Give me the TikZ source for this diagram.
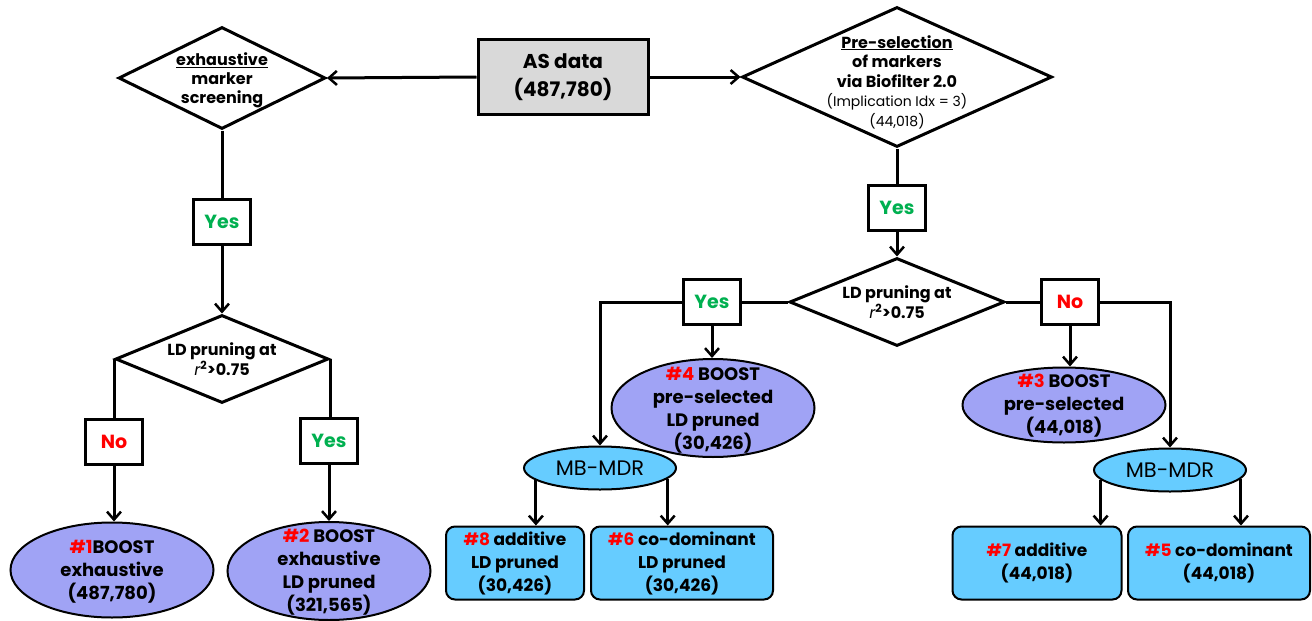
\documentclass[tikz,border=0pt]{standalone}
\usepackage{fontspec}
\setmainfont{Poppins}
\usetikzlibrary{shapes.geometric,arrows.meta,calc}
\definecolor{ellfill}{HTML}{A0A3F5}
\definecolor{bluefill}{HTML}{66CCFF}
\definecolor{greyfill}{HTML}{D9D9D9}
\definecolor{yesgreen}{HTML}{00B050}
\definecolor{nored}{HTML}{FF0000}
\newcommand{\rn}[1]{\textcolor{nored}{#1}}
\begin{document}
\begin{tikzpicture}[x=1pt,y=-1pt,
  conn/.style={line width=3pt},
  arr/.style={conn,-{Straight Barb[length=8pt,width=14pt,line width=2.5pt]}},
  dia/.style={diamond,draw,line width=3pt,fill=white,inner sep=0pt},
  txt/.style={align=center,inner sep=0pt,font=\fontsize{16}{19}\selectfont\bfseries},
  big/.style={align=center,inner sep=0pt,font=\fontsize{18}{23}\selectfont\bfseries},
  ans/.style={draw,line width=3pt,fill=white,minimum width=57pt,minimum height=45pt,inner sep=0pt,font=\fontsize{19}{22}\selectfont\bfseries},
  ell/.style={ellipse,draw,line width=2pt,fill=ellfill,inner sep=0pt},
  mb/.style={ellipse,draw,line width=2pt,fill=bluefill,inner sep=0pt,minimum width=152pt,minimum height=43pt,font=\fontsize{21}{24}\selectfont},
  res/.style={draw,line width=2pt,fill=bluefill,rounded corners=9pt,inner sep=0pt,minimum height=73pt,align=center,font=\fontsize{17}{23}\selectfont\bfseries}
]
\useasboundingbox (0,0) rectangle (1312,621);

% top row
\node[draw,line width=3pt,fill=greyfill,minimum width=170pt,minimum height=75pt,align=center,inner sep=0pt,
  font=\fontsize{20}{28}\selectfont\bfseries] (as) at (563,77) {AS data\\(487,780)};
\node[dia,minimum width=207pt,minimum height=102pt] (d1) at (222,78) {};
\node[txt] (d1t) at (222,80) {\underline{exhaustive}\\marker\\screening};
\node[dia,minimum width=310pt,minimum height=140pt] (d2) at (897,77) {};
\node[align=center,inner sep=0pt,font=\fontsize{16}{19.5}\selectfont\bfseries] (d2t) at (897,82)
  {\underline{Pre-selection}\\
   of markers\\
   via Biofilter 2.0\\
   {\fontsize{14}{14}\selectfont\mdseries (Implication Idx = 3)}\\
   {\fontsize{14}{14}\selectfont\mdseries (44,018)}};

% left branch
\node[ans,text=yesgreen] (y1) at (222,222) {Yes};
\node[dia,minimum width=213pt,minimum height=88pt] (ld1) at (222,359) {};
\node[txt] (ld1t) at (222,359) {LD pruning at\\{\normalfont\itshape r}\textsuperscript{2}>0.75};
\node[ans,text=nored] (n1) at (114,442) {No};
\node[ans,text=yesgreen] (y3) at (329,441) {Yes};
\node[ell,minimum width=203pt,minimum height=95pt] (e1) at (112,570) {};
\node[big] (e1t) at (112,572) {\rn{\#1}BOOST\\exhaustive\\(487,780)};
\node[ell,minimum width=203pt,minimum height=98pt] (e2) at (329,571) {};
\node[big] (e2t) at (329,572) {\rn{\#2} BOOST\\exhaustive\\LD pruned\\(321,565)};

% right branch
\node[ans,text=yesgreen] (y2) at (897,208) {Yes};
\node[dia,minimum width=215pt,minimum height=88pt] (ld2) at (897,302) {};
\node[txt] (ld2t) at (897,302) {LD pruning at\\{\normalfont\itshape r}\textsuperscript{2}>0.75};
\node[ans,text=yesgreen] (y4) at (712,302) {Yes};
\node[ans,text=nored] (n2) at (1070,302) {No};
\node[ell,minimum width=203pt,minimum height=98pt] (e4) at (713,408) {};
\node[big] (e4t) at (713,410) {\rn{\#4} BOOST\\pre-selected\\LD pruned\\(30,426)};
\node[ell,minimum width=203pt,minimum height=75pt] (e3) at (1064,405) {};
\node[big] (e3t) at (1064,406) {\rn{\#3} BOOST\\pre-selected\\(44,018)};
\node[mb] (mb1) at (600,468) {MB-MDR};
\node[mb] (mb2) at (1170,470) {MB-MDR};
\node[res,minimum width=138pt] (b8) at (515,563) {\rn{\#8} additive\\LD pruned\\(30,426)};
\node[res,minimum width=182pt] (b6) at (682,563) {\rn{\#6} co-dominant\\LD pruned\\(30,426)};
\node[res,minimum width=169pt] (b7) at (1037,563) {\rn{\#7} additive\\(44,018)};
\node[res,minimum width=182pt] (b5) at (1219,563) {\rn{\#5} co-dominant\\(44,018)};

% connectors
\draw[arr] (as.west) -- (d1.east);
\draw[arr] (as.east) -- (d2.west);
\draw[conn] (d1.south) -- (y1.north);
\draw[arr] (y1.south) -- (ld1.north);
\draw[conn] (ld1.west) -- (ld1.west |- n1.north);
\draw[conn] (ld1.east) -- (ld1.east |- y3.north);
\draw[arr] (n1.south) -- (n1.south |- e1.north);
\draw[arr] (y3.south) -- (e2.north);
\draw[conn] (d2.south) -- (y2.north);
\draw[arr] (y2.south) -- (ld2.north);
\draw[conn] (ld2.west) -- (y4.east);
\draw[conn] (ld2.east) -- (n2.west);
\draw[arr] (y4.south) -- (y4.south |- e4.north);
\draw[arr] (n2.south) -- (n2.south |- e3.north);
\draw[arr] (y4.west) -| (mb1.north);
\draw[arr] (n2.east) -| (mb2.north);
\draw[arr] (mb1.-169.7) -- (mb1.-169.7 |- b8.north);
\draw[arr] (mb1.-9.2) -- (mb1.-9.2 |- b6.north);
\draw[arr] (mb2.-172.6) -- (mb2.-172.6 |- b7.north);
\draw[arr] (mb2.-7.4) -- (mb2.-7.4 |- b5.north);
\end{tikzpicture}
\end{document}
